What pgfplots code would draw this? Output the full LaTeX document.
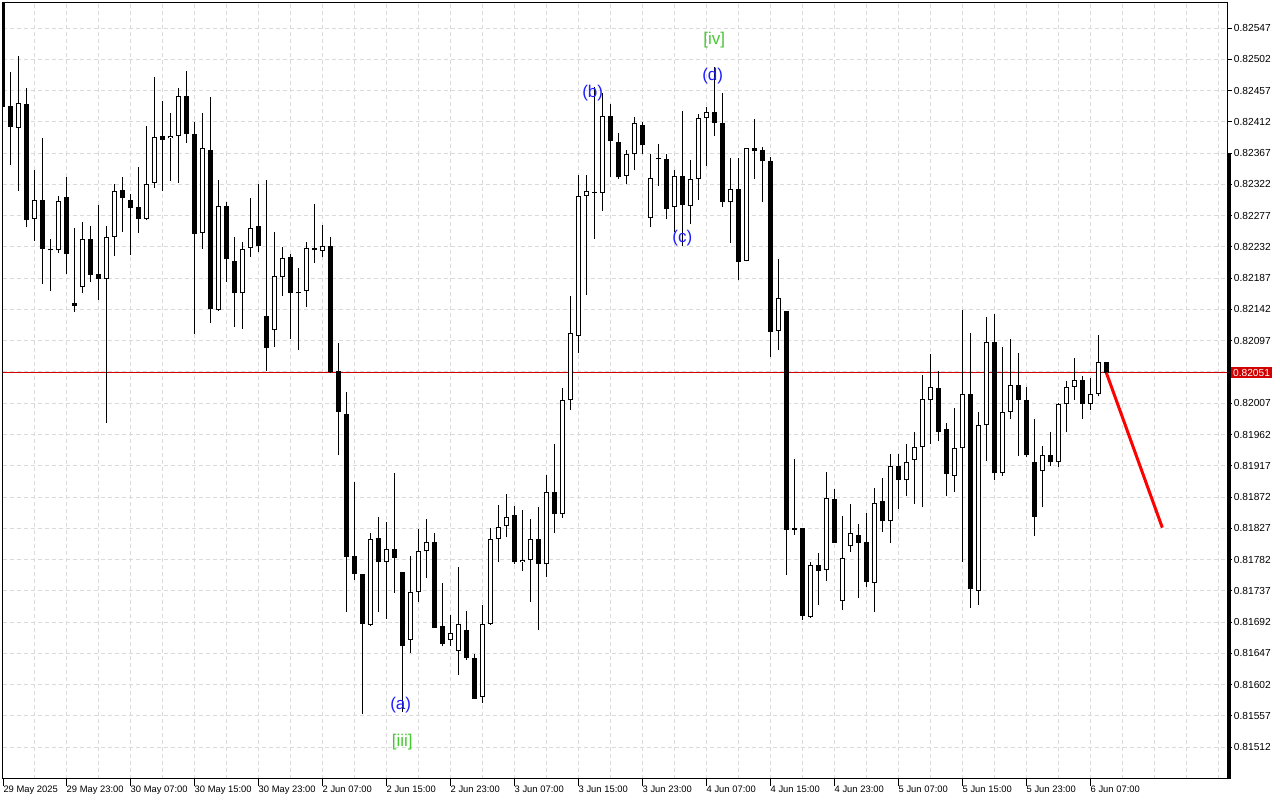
\documentclass[border=0pt]{standalone}
\usepackage{fontspec}
\setmainfont{Liberation Sans}
\usepackage{pgfplots}
\pgfplotsset{compat=1.18}
\usepackage{pgfplotstable}

\definecolor{gridc}{RGB}{218,218,218}
\definecolor{pricered}{RGB}{210,0,0}
\definecolor{ewblue}{RGB}{30,30,255}
\definecolor{ewgreen}{RGB}{70,200,50}

% n open high low close
\pgfplotstableread{
n o h l c
0 0.82590 0.82600 0.82434 0.82434
1 0.82435 0.82483 0.82350 0.82405
3 0.82438 0.82460 0.82260 0.82270
5 0.82299 0.82388 0.82179 0.82229
6 0.82229 0.82243 0.82169 0.82227
8 0.82304 0.82333 0.82193 0.82222
9 0.82151 0.82259 0.82139 0.82147
11 0.82243 0.82262 0.82181 0.82192
12 0.82193 0.82292 0.82156 0.82186
15 0.82314 0.82333 0.82254 0.82303
16 0.82300 0.82308 0.82221 0.82288
17 0.82289 0.82347 0.82252 0.82272
20 0.82391 0.82442 0.82313 0.82386
23 0.82449 0.82485 0.82382 0.82395
24 0.82394 0.82412 0.82107 0.82251
26 0.82371 0.82448 0.82123 0.82142
28 0.82291 0.82297 0.82182 0.82214
29 0.82212 0.82246 0.82117 0.82165
32 0.82262 0.82323 0.82224 0.82234
33 0.82132 0.82328 0.82054 0.82086
36 0.82218 0.82222 0.82100 0.82166
37 0.82167 0.82201 0.82083 0.82165
39 0.82230 0.82294 0.82209 0.82227
41 0.82233 0.82246 0.82051 0.82052
42 0.82053 0.82093 0.81932 0.81995
43 0.81992 0.82023 0.81707 0.81786
44 0.81787 0.81893 0.81753 0.81762
45 0.81761 0.81761 0.81560 0.81690
47 0.81813 0.81843 0.81707 0.81778
49 0.81797 0.81907 0.81734 0.81785
50 0.81764 0.81764 0.81563 0.81658
54 0.81807 0.81820 0.81684 0.81684
55 0.81687 0.81748 0.81657 0.81661
58 0.81680 0.81708 0.81638 0.81641
59 0.81640 0.81646 0.81582 0.81582
64 0.81846 0.81859 0.81775 0.81778
67 0.81811 0.81858 0.81680 0.81776
69 0.81879 0.81949 0.81821 0.81847
76 0.82420 0.82438 0.82332 0.82384
77 0.82383 0.82396 0.82330 0.82332
80 0.82407 0.82412 0.82365 0.82378
83 0.82358 0.82365 0.82272 0.82286
85 0.82334 0.82427 0.82233 0.82292
89 0.82426 0.82491 0.82391 0.82411
90 0.82410 0.82453 0.82290 0.82297
92 0.82315 0.82360 0.82184 0.82210
94 0.82375 0.82416 0.82330 0.82370
95 0.82372 0.82376 0.82296 0.82355
96 0.82356 0.82361 0.82073 0.82110
98 0.82140 0.82140 0.81760 0.81825
99 0.81827 0.81927 0.81818 0.81825
100 0.81827 0.81827 0.81695 0.81701
102 0.81774 0.81792 0.81717 0.81766
104 0.81869 0.81884 0.81806 0.81806
107 0.81817 0.81833 0.81727 0.81806
108 0.81807 0.81849 0.81743 0.81750
110 0.81866 0.81899 0.81822 0.81837
112 0.81916 0.81934 0.81855 0.81896
117 0.82029 0.82054 0.81952 0.81965
118 0.81970 0.81978 0.81873 0.81905
121 0.82020 0.82108 0.81713 0.81739
124 0.82095 0.82135 0.81896 0.81906
127 0.82033 0.82080 0.81931 0.82011
128 0.82011 0.82030 0.81929 0.81932
129 0.81922 0.81984 0.81816 0.81843
131 0.81932 0.81965 0.81916 0.81922
135 0.82041 0.82046 0.81985 0.82006
138 0.82067 0.82067 0.82051 0.82051
}\bear

\pgfplotstableread{
n o h l c
2 0.82403 0.82507 0.82313 0.82439
4 0.82272 0.82343 0.82241 0.82299
7 0.82227 0.82305 0.82223 0.82298
10 0.82174 0.82268 0.82166 0.82243
13 0.82186 0.82262 0.81979 0.82246
14 0.82246 0.82322 0.82219 0.82312
18 0.82272 0.82406 0.82271 0.82322
19 0.82324 0.82477 0.82317 0.82390
21 0.82388 0.82425 0.82327 0.82391
22 0.82391 0.82460 0.82324 0.82449
25 0.82252 0.82425 0.82229 0.82374
27 0.82141 0.82328 0.82140 0.82291
30 0.82165 0.82239 0.82114 0.82229
31 0.82230 0.82302 0.82218 0.82259
34 0.82112 0.82253 0.82088 0.82190
35 0.82188 0.82232 0.82162 0.82216
38 0.82168 0.82239 0.82146 0.82230
40 0.82226 0.82264 0.82217 0.82234
46 0.81688 0.81820 0.81686 0.81811
48 0.81779 0.81836 0.81697 0.81797
51 0.81666 0.81787 0.81648 0.81735
52 0.81735 0.81826 0.81721 0.81794
53 0.81794 0.81840 0.81755 0.81807
56 0.81666 0.81702 0.81657 0.81677
57 0.81650 0.81771 0.81616 0.81690
60 0.81584 0.81717 0.81575 0.81689
61 0.81690 0.81827 0.81688 0.81811
62 0.81811 0.81861 0.81778 0.81829
63 0.81830 0.81876 0.81814 0.81844
65 0.81778 0.81853 0.81766 0.81781
66 0.81781 0.81840 0.81721 0.81811
68 0.81775 0.81904 0.81757 0.81879
70 0.81847 0.82029 0.81842 0.82011
71 0.82011 0.82161 0.81997 0.82108
72 0.82104 0.82336 0.82080 0.82305
73 0.82305 0.82335 0.82163 0.82312
74 0.82310 0.82462 0.82244 0.82310
75 0.82310 0.82453 0.82284 0.82421
78 0.82334 0.82371 0.82322 0.82365
79 0.82365 0.82419 0.82342 0.82411
81 0.82273 0.82366 0.82260 0.82331
82 0.82358 0.82380 0.82320 0.82358
84 0.82289 0.82342 0.82254 0.82334
86 0.82291 0.82357 0.82265 0.82329
87 0.82329 0.82423 0.82299 0.82417
88 0.82417 0.82434 0.82349 0.82426
91 0.82296 0.82360 0.82238 0.82315
93 0.82211 0.82375 0.82211 0.82375
97 0.82111 0.82214 0.82084 0.82159
101 0.81700 0.81778 0.81698 0.81774
103 0.81767 0.81908 0.81751 0.81870
105 0.81722 0.81845 0.81709 0.81784
106 0.81801 0.81862 0.81793 0.81820
109 0.81749 0.81885 0.81707 0.81864
111 0.81837 0.81934 0.81806 0.81916
113 0.81896 0.81949 0.81874 0.81923
114 0.81925 0.81966 0.81862 0.81944
115 0.81944 0.82047 0.81857 0.82013
116 0.82011 0.82078 0.81949 0.82031
119 0.81903 0.82000 0.81880 0.81942
120 0.81942 0.82141 0.81778 0.82021
122 0.81737 0.81995 0.81716 0.81975
123 0.81975 0.82131 0.81924 0.82095
125 0.81906 0.82088 0.81903 0.81995
126 0.81995 0.82100 0.81984 0.82033
130 0.81909 0.81945 0.81857 0.81932
132 0.81922 0.82008 0.81915 0.82006
133 0.82006 0.82039 0.81965 0.82031
134 0.82031 0.82072 0.82011 0.82041
136 0.82006 0.82044 0.81997 0.82021
137 0.82021 0.82105 0.82017 0.82067
}\bull

\pgfplotsset{
  wick/.style={draw=none, mark=none, forget plot,
    error bars/.cd, y dir=plus, y explicit, error mark=none,
    error bar style={draw=black, line width=0.5pt, line cap=butt}},
  body/.style={draw=none, mark=none, forget plot,
    error bars/.cd, y dir=plus, y explicit, error mark=none,
    error bar style={draw=black, line width=2.5pt, line cap=butt}},
  inner/.style={draw=none, mark=none, forget plot,
    error bars/.cd, y dir=plus, y explicit, error mark=none,
    error bar style={draw=white, line width=1.5pt, line cap=butt}},
}

\begin{document}
\begin{tikzpicture}
\useasboundingbox (0,0) rectangle (640pt,400pt);
\begin{axis}[
  at={(1.35pt,10.75pt)}, anchor=south west,
  scale only axis, width=612.4pt, height=388pt,
  xmin=0.05, xmax=153.15, ymin=0.81467, ymax=0.825837,
  axis line style={black, line width=0.5pt},
  tick align=outside,
  major tick length=2pt,
  minor tick length=0pt,
  xtick={0.1,8,16,24,32,40,48,56,64,72,80,88,96,104,112,120,128,136},
  xticklabels={29 May 2025,29 May 23:00,30 May 07:00,30 May 15:00,30 May 23:00,2 Jun 07:00,2 Jun 15:00,2 Jun 23:00,3 Jun 07:00,3 Jun 15:00,3 Jun 23:00,4 Jun 07:00,4 Jun 15:00,4 Jun 23:00,5 Jun 07:00,5 Jun 15:00,5 Jun 23:00,6 Jun 07:00},
  minor xtick={4,8,...,152},
  xmajorgrids=false, xminorgrids=true,
  ytick={0.81512,0.81557,0.81602,0.81647,0.81692,0.81737,0.81782,0.81827,0.81872,0.81917,0.81962,0.82007,0.82052,0.82097,0.82142,0.82187,0.82232,0.82277,0.82322,0.82367,0.82412,0.82457,0.82502,0.82547},
  yticklabels={0.81512,0.81557,0.81602,0.81647,0.81692,0.81737,0.81782,0.81827,0.81872,0.81917,0.81962,0.82007,,0.82097,0.82142,0.82187,0.82232,0.82277,0.82322,0.82367,0.82412,0.82457,0.82502,0.82547},
  ymajorgrids=true,
  grid style={gridc, dash pattern=on 2pt off 1.5pt, line width=0.5pt},
  minor grid style={gridc, dash pattern=on 2pt off 1.5pt, line width=0.5pt},
  yticklabel pos=right,
  ytick pos=right, xtick pos=bottom,
  tick style={black, line width=0.5pt},
  xtick style={/pgfplots/major tick length=3.5pt},
  xticklabel style={anchor=north west, inner sep=0pt, yshift=-1.5pt, font=\fontsize{4.7}{5.5}\selectfont},
  yticklabel style={anchor=west, inner sep=0pt, xshift=1pt, font=\fontsize{5.1}{6}\selectfont},
]
% current price line
\addplot[pricered, line width=0.5pt, forget plot] coordinates {(0,0.82051) (153.15,0.82051)};
% wicks
\addplot[wick] table[x=n, y=l, y error plus expr=\thisrow{h}-\thisrow{l}] {\bear};
\addplot[wick] table[x=n, y=l, y error plus expr=\thisrow{h}-\thisrow{l}] {\bull};
% bodies
\addplot[body] table[x=n, y expr={min(\thisrow{o},\thisrow{c})}, y error plus expr={max(abs(\thisrow{c}-\thisrow{o}),0.0000144)}] {\bear};
\addplot[body] table[x=n, y expr={min(\thisrow{o},\thisrow{c})}, y error plus expr={max(abs(\thisrow{c}-\thisrow{o}),0.0000144)}] {\bull};
\addplot[inner] table[x=n, y expr={\thisrow{o}+0.0000144}, y error plus expr={max(\thisrow{c}-\thisrow{o}-0.0000288,0)}] {\bull};
% forecast line
\addplot[red, line width=1.5pt, forget plot] coordinates {(138,0.82051) (145,0.81828)};
% wave labels
\node[ewgreen, font=\fontsize{8.5}{10}\selectfont] at (axis cs:89,0.82530) {[iv]};
\node[ewblue, font=\fontsize{8.5}{10}\selectfont] at (axis cs:88.8,0.82478) {(d)};
\node[ewblue, font=\fontsize{8.5}{10}\selectfont] at (axis cs:73.8,0.82453) {(b)};
\node[ewblue, font=\fontsize{8.5}{10}\selectfont] at (axis cs:85,0.82245) {(c)};
\node[ewblue, font=\fontsize{8.5}{10}\selectfont] at (axis cs:49.8,0.81573) {(a)};
\node[ewgreen, font=\fontsize{8.5}{10}\selectfont] at (axis cs:50,0.81520) {[iii]};
\coordinate (rtop) at (axis cs:153.15,0.82367);
\coordinate (rbot) at (axis cs:153.15,0.81467);
\coordinate (plab) at (axis cs:153.15,0.82051);
\end{axis}
\draw[line width=1.75pt] ([xshift=0.8pt]rtop) -- ([xshift=0.8pt]rbot);
\node[fill=pricered, text=white, anchor=west, inner xsep=1pt, inner ysep=0.9pt, font=\fontsize{5.1}{6}\selectfont] at ([xshift=1.6pt]plab) {0.82051};
\end{tikzpicture}
\end{document}
